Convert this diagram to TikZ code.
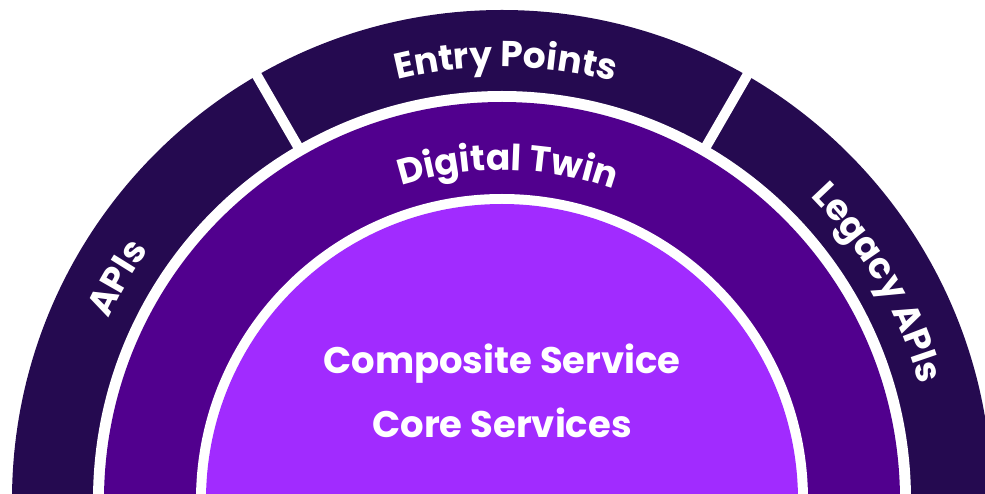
\documentclass[tikz,border=0pt]{standalone}
\usepackage{fontspec}
\setmainfont{Poppins}
\usetikzlibrary{decorations.text}
\definecolor{outerring}{HTML}{250A50}
\definecolor{midring}{HTML}{51008E}
\definecolor{corefill}{HTML}{A12BFF}
\newcommand{\ringfont}{\fontsize{36}{36}\selectfont\bfseries\color{white}}
\tikzstyle{gap} = [line width=10pt, white]
\tikzstyle{core text} = [text=white, font=\fontsize{37}{37}\selectfont\bfseries, anchor=base]

\begin{document}
\begin{tikzpicture}[x=1pt, y=1pt]
\useasboundingbox (0,0) rectangle (985,493);
\clip (0,0) rectangle (985,493);

\coordinate (o) at (502,-7);

%rings
\fill[outerring] (o) circle (490pt);
\fill[white] (o) circle (409pt);
\fill[midring] (o) circle (398pt);
\fill[white] (o) circle (306pt);
\fill[corefill] (o) circle (296pt);

%dividers
\foreach \a in {60,120}
	\draw[gap] (o) ++(\a:400pt) -- ++(\a:100pt);

%curved labels
\path[decorate, decoration={text along path, text align=center, text={|\ringfont|APIs}}]
	(o) ++(190:433pt) arc[start angle=190, end angle=110, radius=433pt];
\path[decorate, decoration={text along path, text align=center, text={|\ringfont|Entry Points}}]
	(o) ++(129.5:433pt) arc[start angle=129.5, end angle=49.5, radius=433pt];
\path[decorate, decoration={text along path, text align=center, text={|\ringfont|Legacy APIs}}]
	(o) ++(70:433pt) arc[start angle=70, end angle=-10, radius=433pt];
\path[decorate, decoration={text along path, text align=center, text={|\ringfont|Digital Twin}}]
	(o) ++(129:330pt) arc[start angle=129, end angle=49, radius=330pt];

\node[core text] (comp) at (502,120) {Composite Service};
\node[core text] (core) at (502,56) {Core Services};

\end{tikzpicture}
\end{document}
